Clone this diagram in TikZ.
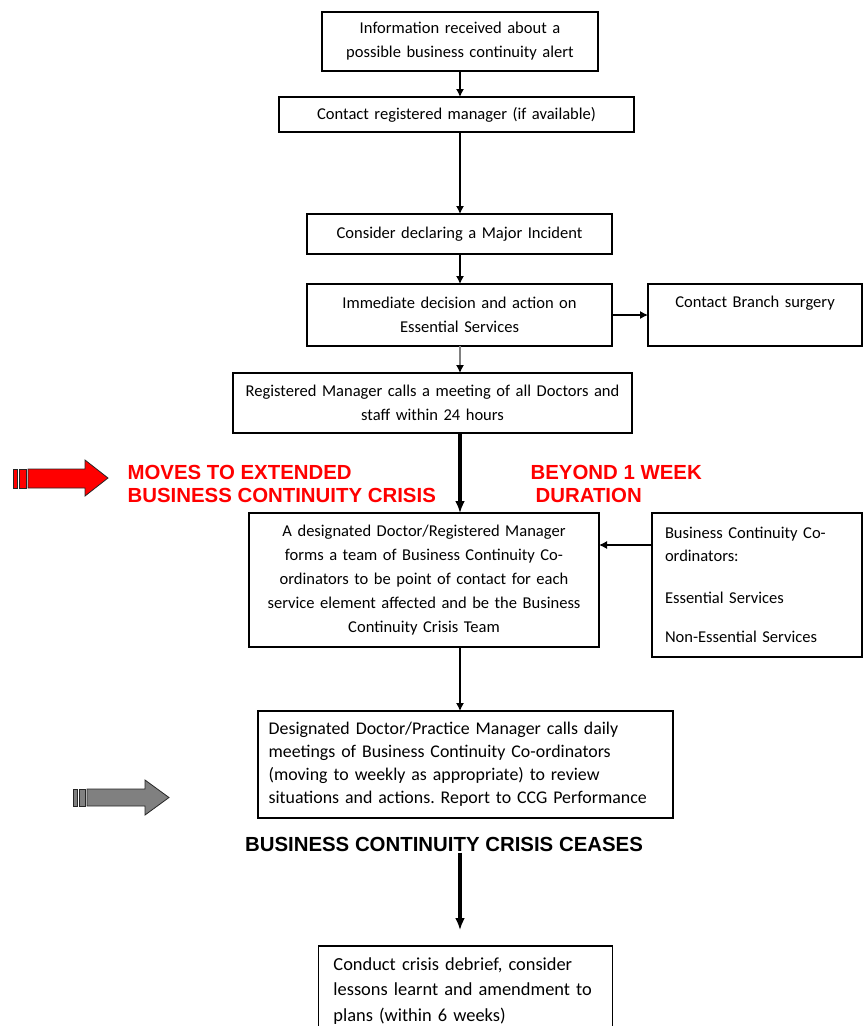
\documentclass[tikz,border=0pt]{standalone}
\usepackage{fontspec}
\setmainfont{Carlito}
\newfontfamily\arialfont{Liberation Sans}
\usetikzlibrary{positioning,arrows.meta}
\frenchspacing
\hyphenpenalty=10000

\begin{document}
\begin{tikzpicture}[x=0.75pt,y=-0.75pt,->,>={Latex[length=6pt,width=6pt]},line width=0.9pt,
    box/.style={draw,rectangle,inner sep=0pt,outer sep=0pt,align=center,font=\fontsize{12.4}{18}\selectfont},
    bigbox/.style={draw,rectangle,inner ysep=0pt,outer sep=0pt,inner xsep=9.75pt,align=left,font=\fontsize{13.8}{17.25}\selectfont},
    alert/.style={inner sep=0pt,align=left,font=\arialfont\bfseries\fontsize{15.3}{17.25}\selectfont},
    fat/.style={line width=3pt,-{Latex[length=9pt,width=7.5pt]}}]
    \useasboundingbox (0,0) rectangle (863,1026);

    \node [box,text width=207pt,minimum height=44.25pt] (info) at (460,41.5) {Information received about a\\possible business continuity alert};
    \node [box,text width=266.25pt,minimum height=26.25pt,below=19.5pt of info,xshift=-2.6pt] (contact) {Contact registered manager (if available)};
    \node [box,text width=228.75pt,minimum height=30pt,below=61.5pt of contact,xshift=2.25pt] (consider) {Consider declaring a Major Incident};
    \node [box,text width=228.75pt,minimum height=46.5pt,below=22.5pt of consider] (immediate) {Immediate decision and action on\\Essential Services};
    \node [box,text width=160.5pt,minimum height=46.5pt,text depth=20pt,right=27pt of immediate] (branch) {Contact Branch surgery};
    \node [box,text width=299.25pt,minimum height=45pt,below=20.25pt of immediate,xshift=-20.25pt] (meeting) {Registered Manager calls a meeting of all Doctors and\\staff within 24 hours};
    \node [box,text width=262.5pt,minimum height=100.5pt,below=60pt of meeting,xshift=-6.4pt] (team) {A designated Doctor/Registered Manager\\forms a team of Business Continuity Co-\\ordinators to be point of contact for each\\service element affected and be the Business\\Continuity Crisis Team};
    \node [box,align=left,inner xsep=9.75pt,text width=138pt,minimum height=108pt,font=\fontsize{12.4}{17.25}\selectfont,right=39.75pt of team.north east,anchor=north west] (coord) {Business Continuity Co-\\ordinators:\\[14.25pt]Essential Services\\[12pt]Non-Essential Services};
    \node [bigbox,inner xsep=8pt,text width=295.25pt,minimum height=80.25pt,font=\fontsize{13.4}{17.25}\selectfont,below=48pt of team,xshift=31.1pt] (daily) {Designated Doctor/Practice Manager calls daily\\meetings of Business Continuity Co-ordinators\\(moving to weekly as appropriate) to review\\situations and actions. Report to CCG Performance};
    \node [alert,below=14.25pt of daily,xshift=-16.1pt] (ceases) {BUSINESS CONTINUITY CRISIS CEASES};
    \node [bigbox,inner xsep=11.25pt,text width=198pt,minimum height=67.5pt,font=\fontsize{13.8}{19}\selectfont,below=96pt of daily] (debrief) {Conduct crisis debrief, consider\\lessons learnt and amendment to\\plans (within 6 weeks)};

    \node [alert,red,anchor=north west] (moves) at (127,465) {MOVES TO EXTENDED\\BUSINESS CONTINUITY CRISIS};
    \node [alert,red,anchor=north west] (beyond) at (530,465) {BEYOND 1 WEEK\\\hspace*{3.75pt}DURATION};

    % block arrows on the left
    \filldraw [-,fill=red,draw=black!85,line width=0.6pt] (28,469) -- (85,469) -- (85,460) -- (108,478) -- (85,496) -- (85,488) -- (28,488) -- cycle;
    \filldraw [-,fill=red,draw=black!85,line width=0.6pt] (13,469) rectangle (17,488);
    \filldraw [-,fill=red,draw=black!85,line width=0.6pt] (19,469) rectangle (26,488);
    \filldraw [-,fill=gray,draw=black!85,line width=0.6pt] (87,789) -- (145,789) -- (145,780) -- (169,797.5) -- (145,815) -- (145,806) -- (87,806) -- cycle;
    \filldraw [-,fill=gray,draw=black!85,line width=0.6pt] (73,789) rectangle (77,806);
    \filldraw [-,fill=gray,draw=black!85,line width=0.6pt] (79,789) rectangle (85,806);

    \draw (info.south) -- (info.south |- contact.north);
    \draw (contact.south -| info.south) -- (info.south |- consider.north);
    \draw (consider.south -| info.south) -- (info.south |- immediate.north);
    \draw (immediate.east) -- (branch.west);
    \draw [draw=gray,-{Latex[length=6pt,width=6pt,black]}] (immediate.south -| info.south) -- (info.south |- meeting.north);
    \draw [fat] (meeting.south -| info.south) -- (info.south |- team.north);
    \draw ([yshift=-24pt]coord.north west) -- ([yshift=-24pt]team.north east);
    \draw (team.south -| info.south) -- (info.south |- daily.north);
    \draw [fat,shorten >=12pt] (ceases.south -| info.south) -- (info.south |- debrief.north);
\end{tikzpicture}
\end{document}
